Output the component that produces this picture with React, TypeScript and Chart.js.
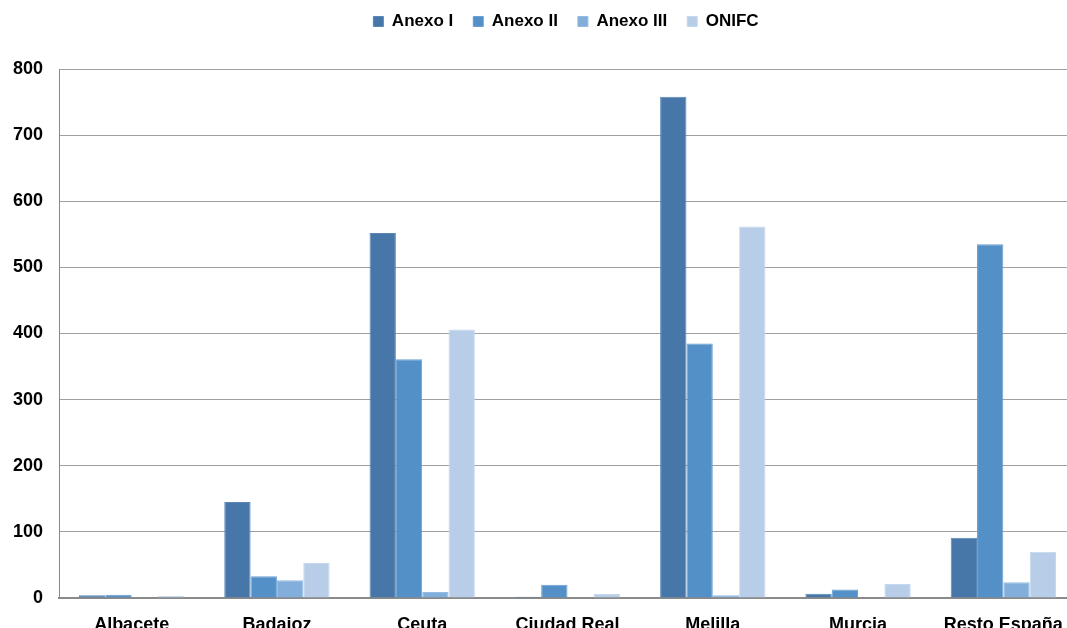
import React, { useEffect, useRef } from "react";
import { Chart, registerables } from "chart.js";

Chart.register(...registerables);

const categories = ["Albacete", "Badajoz", "Ceuta", "Ciudad Real", "Melilla", "Murcia", "Resto España"];
const anexoI = [4, 145, 552, 2, 758, 6.5, 91];
const anexoII = [5, 33, 361, 20, 385, 13, 535];
const anexoIII = [0, 27, 9, 0, 4, 0, 24];
const onifc = [3, 53, 406, 6, 562, 21, 70];
const seriesNames = ["Anexo I", "Anexo II", "Anexo III", "ONIFC"];
const seriesColors = ["#4677a8", "#5390c8", "#82aedb", "#b8cde8"];
const seriesBorders = ["#5a88b6", "#6a9fd2", "#95bbe2", "#c6d8ee"];

const FONT = "'Liberation Sans', Arial, Helvetica, sans-serif";
const CW = 1132;

export default function App() {
  const ref = useRef<HTMLCanvasElement | null>(null);
  useEffect(() => {
    document.body.style.margin = "0";
    const values = [anexoI, anexoII, anexoIII, onifc];
    const legendMargin = {
      id: "legendMargin",
      beforeInit(chart: any) {
        const legend = chart.legend;
        if (!legend) return;
        const fit = legend.fit;
        legend.fit = function () {
          fit.call(this);
          this.height += 29;
        };
      },
      afterLayout(chart: any) {
        const legend = chart.legend;
        if (legend) {
          legend.left = 56;
          legend.right = 1076;
        }
      },
    };
    const chart = new Chart(ref.current as HTMLCanvasElement, {
      type: "bar",
      data: {
        labels: categories,
        datasets: values.map((v, i) => ({
          label: seriesNames[i],
          data: v,
          backgroundColor: seriesColors[i],
          borderColor: seriesBorders[i],
          borderWidth: 1,
          categoryPercentage: 0.725,
          barPercentage: 1,
        })),
      },
      options: {
        animation: false,
        responsive: false,
        maintainAspectRatio: false,
        layout: { padding: { top: -7, left: 0, right: 56, bottom: 0 } },
        plugins: {
          tooltip: { enabled: false },
          legend: {
            position: "top",
            labels: {
              boxWidth: 10,
              boxHeight: 10,
              padding: 20,
              color: "#000",
              font: { family: FONT, size: 17, weight: "bold" },
            },
          },
        },
        scales: {
          x: {
            grid: { display: false, drawTicks: false },
            border: { display: true, color: "#8a8a8a", width: 2 },
            ticks: {
              color: "#000",
              padding: 16,
              maxRotation: 0,
              autoSkip: false,
              font: { family: FONT, size: 18, weight: "bold" },
            },
            afterFit(scale: any) {
              scale.height = 30;
            },
          },
          y: {
            min: 0,
            max: 800,
            ticks: {
              stepSize: 100,
              color: "#000",
              padding: 16,
              font: { family: FONT, size: 18, weight: "bold" },
            },
            grid: { color: "#a0a0a0", lineWidth: 1, drawTicks: false },
            border: { display: true, color: "#8a8a8a", width: 1 },
            afterFit(scale: any) {
              scale.width = 59;
            },
          },
        },
      },
      plugins: [legendMargin],
    } as any);
    return () => chart.destroy();
  }, []);
  return (
    <div style={{ width: 1067, height: 628, overflow: "hidden" }}>
      <canvas ref={ref} width={CW} height={628} style={{ width: CW, height: 628, display: "block" }} />
    </div>
  );
}
